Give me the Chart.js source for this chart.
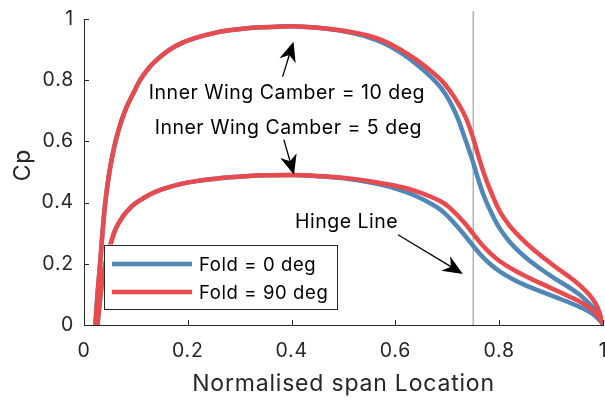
<!DOCTYPE html>
<html>
<head>
<meta charset="utf-8">
<script src="https://cdn.jsdelivr.net/npm/chart.js@4.4.1/dist/chart.umd.min.js"></script>
<style>
  html, body { margin: 0; padding: 0; background: #ffffff; }
  canvas { display: block; }
</style>
</head>
<body>
<canvas id="cpChart" width="605" height="401"></canvas>
<script>
// Spanwise pressure coefficient, inner wing camber 10 deg
const spanC10 = [0.022, 0.026, 0.031, 0.036, 0.041, 0.048, 0.057, 0.068, 0.080, 0.095, 0.108, 0.125, 0.144, 0.165, 0.189, 0.22, 0.25, 0.28, 0.31, 0.34, 0.37, 0.40, 0.43, 0.46, 0.49, 0.52, 0.545, 0.575, 0.61, 0.64, 0.67, 0.69, 0.705, 0.72, 0.735, 0.75, 0.76, 0.77, 0.78, 0.80, 0.82, 0.85, 0.88, 0.91, 0.94, 0.96, 0.98, 0.99, 1.0];
const cpC10Fold0 = [0, 0.10, 0.20, 0.31, 0.40, 0.49, 0.573, 0.645, 0.704, 0.757, 0.80, 0.84, 0.872, 0.90, 0.922, 0.941, 0.954, 0.963, 0.969, 0.973, 0.975, 0.976, 0.974, 0.970, 0.963, 0.953, 0.942, 0.923, 0.89, 0.853, 0.808, 0.77, 0.73, 0.676, 0.605, 0.53, 0.474, 0.424, 0.384, 0.318, 0.272, 0.222, 0.183, 0.149, 0.117, 0.092, 0.058, 0.034, 0.0];
const cpC10Fold90 = [0, 0.10, 0.20, 0.31, 0.40, 0.49, 0.573, 0.645, 0.704, 0.757, 0.80, 0.84, 0.872, 0.90, 0.922, 0.941, 0.954, 0.963, 0.969, 0.973, 0.975, 0.976, 0.974, 0.970, 0.964, 0.956, 0.947, 0.93, 0.9, 0.867, 0.828, 0.797, 0.765, 0.727, 0.68, 0.61, 0.552, 0.498, 0.452, 0.375, 0.325, 0.271, 0.227, 0.188, 0.151, 0.122, 0.085, 0.055, 0.005];

// Spanwise pressure coefficient, inner wing camber 5 deg
const spanC5 = [0.026, 0.03, 0.034, 0.04, 0.048, 0.06, 0.075, 0.092, 0.11, 0.125, 0.15, 0.189, 0.22, 0.253, 0.28, 0.31, 0.35, 0.40, 0.45, 0.506, 0.55, 0.60, 0.635, 0.667, 0.686, 0.70, 0.72, 0.735, 0.75, 0.765, 0.782, 0.80, 0.83, 0.853, 0.88, 0.91, 0.93, 0.96, 0.98, 0.99, 1.0];
const cpC5Fold0 = [0, 0.07, 0.13, 0.19, 0.245, 0.31, 0.355, 0.388, 0.41, 0.425, 0.443, 0.462, 0.471, 0.478, 0.483, 0.486, 0.489, 0.49, 0.486, 0.478, 0.466, 0.446, 0.425, 0.398, 0.378, 0.357, 0.32, 0.29, 0.258, 0.228, 0.20, 0.176, 0.146, 0.128, 0.11, 0.09, 0.077, 0.055, 0.036, 0.022, 0.003];
const cpC5Fold90 = [0, 0.07, 0.13, 0.19, 0.245, 0.31, 0.355, 0.388, 0.41, 0.425, 0.443, 0.462, 0.471, 0.478, 0.483, 0.486, 0.489, 0.49, 0.487, 0.48, 0.47, 0.455, 0.44, 0.42, 0.405, 0.39, 0.358, 0.33, 0.298, 0.266, 0.236, 0.21, 0.178, 0.158, 0.136, 0.113, 0.097, 0.072, 0.048, 0.03, 0.005];

const seriesLabels = ['Fold = 0 deg', 'Fold = 90 deg'];
const xTicks = [0, 0.2, 0.4, 0.6, 0.8, 1];
const yTicks = [0, 0.2, 0.4, 0.6, 0.8, 1];
const hingeSpan = 0.75;

const BLUE = '#5087b6';
const RED = '#e84a4e';
const AXIS = '#262626';
const FONT = 'Inter, "Liberation Sans", Arial, sans-serif';

const toPoints = (xs, ys) => xs.map((x, i) => ({ x: x, y: ys[i] }));

// Text notes and arrows, placed in data coordinates
const notes = [
  { text: 'Inner Wing Camber = 10 deg', x: 0.391, y: 0.7386 },
  { text: 'Inner Wing Camber = 5 deg', x: 0.3937, y: 0.624 },
  { text: 'Hinge Line', x: 0.506, y: 0.317 }
];
const arrows = [
  { from: [0.3825, 0.811], to: [0.4037, 0.926] },
  { from: [0.385, 0.606], to: [0.4046, 0.491] },
  { from: [0.605, 0.295], to: [0.730, 0.167] }
];

function drawArrow(ctx, x1, y1, x2, y2) {
  const a = Math.atan2(y2 - y1, x2 - x1);
  const c = Math.cos(a), s = Math.sin(a);
  const L = 20, W = 8.5, notch = 6;
  const bx = x2 - L * c, by = y2 - L * s;
  const nx = x2 - (L - notch) * c, ny = y2 - (L - notch) * s;
  ctx.beginPath();
  ctx.moveTo(x1, y1);
  ctx.lineTo(nx, ny);
  ctx.strokeStyle = '#000';
  ctx.lineWidth = 1.3;
  ctx.stroke();
  ctx.beginPath();
  ctx.moveTo(x2, y2);
  ctx.lineTo(bx - W * s, by + W * c);
  ctx.lineTo(nx, ny);
  ctx.lineTo(bx + W * s, by - W * c);
  ctx.closePath();
  ctx.fillStyle = '#000';
  ctx.fill();
}

// Slightly looser letter spacing for axis text
const textSpacing = {
  id: 'textSpacing',
  beforeDraw(chart) { chart.ctx.letterSpacing = '0.8px'; },
  afterDraw(chart) { chart.ctx.letterSpacing = '0px'; }
};

// Inward-pointing tick marks on both axes, plus the rotated y-axis title
const axisDecor = {
  id: 'axisDecor',
  beforeDatasetsDraw(chart) {
    const { ctx, chartArea: ca, scales: { x, y } } = chart;
    ctx.save();
    ctx.strokeStyle = AXIS;
    ctx.lineWidth = 1;
    ctx.beginPath();
    xTicks.forEach(v => {
      const px = Math.round(x.getPixelForValue(v)) + 0.5;
      ctx.moveTo(px, ca.bottom);
      ctx.lineTo(px, ca.bottom - 5);
    });
    yTicks.forEach(v => {
      const py = Math.round(y.getPixelForValue(v)) + 0.5;
      ctx.moveTo(ca.left, py);
      ctx.lineTo(ca.left + 5, py);
    });
    ctx.stroke();

    ctx.translate(23.5, (ca.top + ca.bottom) / 2 - 7);
    ctx.rotate(-Math.PI / 2);
    ctx.font = '23px ' + FONT;
    ctx.fillStyle = AXIS;
    ctx.textAlign = 'center';
    ctx.textBaseline = 'middle';
    ctx.fillText('Cp', 0, 0);
    ctx.restore();
  }
};

// Notes, arrows and the boxed legend
const overlay = {
  id: 'overlay',
  afterDatasetsDraw(chart) {
    const { ctx, chartArea: ca, scales: { x, y } } = chart;
    ctx.save();
    ctx.letterSpacing = '0.5px';
    ctx.fillStyle = '#000';
    ctx.font = '19.5px ' + FONT;
    ctx.textAlign = 'center';
    ctx.textBaseline = 'alphabetic';
    notes.forEach(n => ctx.fillText(n.text, x.getPixelForValue(n.x), y.getPixelForValue(n.y)));
    arrows.forEach(a => drawArrow(ctx,
      x.getPixelForValue(a.from[0]), y.getPixelForValue(a.from[1]),
      x.getPixelForValue(a.to[0]), y.getPixelForValue(a.to[1])));

    // legend box
    const bx = ca.left + 20, by = ca.top + 225.5, bw = 233, bh = 64;
    ctx.fillStyle = '#fff';
    ctx.fillRect(bx, by, bw, bh);
    ctx.strokeStyle = AXIS;
    ctx.lineWidth = 1;
    ctx.strokeRect(Math.round(bx) + 0.5, Math.round(by) + 0.5, bw, bh);
    const rows = [{ label: seriesLabels[0], color: BLUE }, { label: seriesLabels[1], color: RED }];
    ctx.font = '18.5px ' + FONT;
    ctx.letterSpacing = '0.6px';
    ctx.textAlign = 'left';
    ctx.textBaseline = 'middle';
    rows.forEach((r, i) => {
      const ly = by + 19.5 + i * 28;
      ctx.beginPath();
      ctx.moveTo(bx + 8, ly);
      ctx.lineTo(bx + 88, ly);
      ctx.strokeStyle = r.color;
      ctx.lineWidth = 4.5;
      ctx.stroke();
      ctx.fillStyle = '#000';
      ctx.fillText(r.label, bx + 95, ly + 1);
    });
    ctx.restore();
  }
};

const lineStyle = {
  borderWidth: 4.5,
  pointRadius: 0,
  fill: false,
  cubicInterpolationMode: 'monotone'
};

new Chart(document.getElementById('cpChart'), {
  type: 'line',
  data: {
    datasets: [
      Object.assign({ label: seriesLabels[1], data: toPoints(spanC10, cpC10Fold90), borderColor: RED, order: 0 }, lineStyle),
      Object.assign({ label: seriesLabels[1], data: toPoints(spanC5, cpC5Fold90), borderColor: RED, order: 0 }, lineStyle),
      Object.assign({ label: seriesLabels[0], data: toPoints(spanC10, cpC10Fold0), borderColor: BLUE, order: 1 }, lineStyle),
      Object.assign({ label: seriesLabels[0], data: toPoints(spanC5, cpC5Fold0), borderColor: BLUE, order: 1 }, lineStyle),
      {
        label: 'Hinge Line',
        data: [{ x: hingeSpan, y: 0 }, { x: hingeSpan, y: 1.025 }],
        borderColor: '#b4b4b4',
        borderWidth: 1.5,
        pointRadius: 0,
        clip: false,
        order: 2
      }
    ]
  },
  options: {
    responsive: false,
    animation: false,
    devicePixelRatio: 1,
    layout: { padding: { top: 19, right: 2, left: 0, bottom: 0 } },
    plugins: { legend: { display: false }, tooltip: { enabled: false } },
    scales: {
      x: {
        type: 'linear',
        min: 0,
        max: 1,
        afterFit(s) { s.height = 76; s.paddingLeft = 0; s.paddingRight = 0; },
        afterBuildTicks(s) { s.ticks = xTicks.map(v => ({ value: v })); },
        ticks: {
          callback: v => String(+v.toFixed(1)),
          color: AXIS,
          font: { family: FONT, size: 19.5 },
          padding: 14,
          maxRotation: 0,
          autoSkip: false
        },
        grid: { display: false, drawTicks: false },
        border: { display: true, color: AXIS, width: 1 },
        title: {
          display: true,
          text: 'Normalised span Location',
          color: AXIS,
          font: { family: FONT, size: 23 },
          padding: { top: 0, bottom: 3 }
        }
      },
      y: {
        type: 'linear',
        min: 0,
        max: 1,
        afterFit(s) { s.width = 84; s.paddingTop = 0; s.paddingBottom = 0; },
        afterBuildTicks(s) { s.ticks = yTicks.map(v => ({ value: v })); },
        ticks: {
          callback: v => String(+v.toFixed(1)),
          color: AXIS,
          font: { family: FONT, size: 19.5 },
          padding: 10
        },
        grid: { display: false, drawTicks: false },
        border: { display: true, color: AXIS, width: 1 }
      }
    }
  },
  plugins: [textSpacing, axisDecor, overlay]
});
</script>
</body>
</html>
